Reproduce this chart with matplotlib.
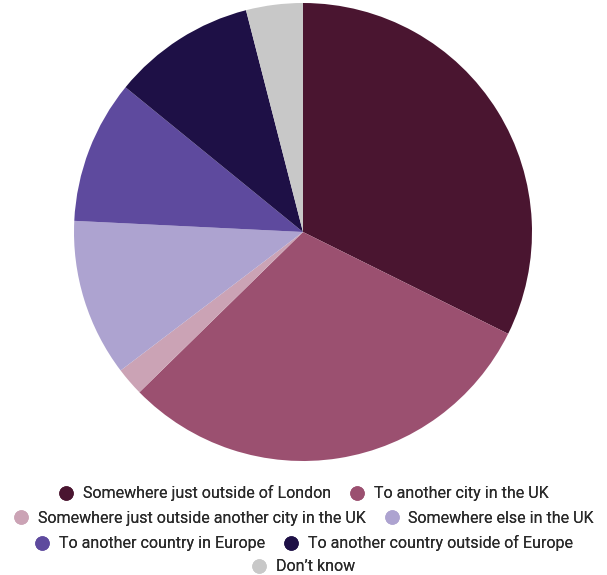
import matplotlib
matplotlib.use("Agg")
import matplotlib.pyplot as plt
from matplotlib.lines import Line2D

labels = [
    "Somewhere just outside of London",
    "To another city in the UK",
    "Somewhere just outside another city in the UK",
    "Somewhere else in the UK",
    "To another country in Europe",
    "To another country outside of Europe",
    "Don\u2019t know",
]
values = [32.3, 30.3, 2.0, 11.1, 10.1, 10.1, 4.0]
colors = ["#4a1530", "#9b5070", "#cba3b5", "#ada3d0", "#5e4a9e", "#1e1046", "#c8c8c8"]

plt.rcParams['font.family'] = ['Roboto', 'DejaVu Sans']

W, H = 607, 575
fig = plt.figure(figsize=(W / 100, H / 100), dpi=100)
cx, cy, r = 303, 232, 229
ax = fig.add_axes([(cx - r) / W, (H - cy - r) / H, 2 * r / W, 2 * r / H])
ax.pie(values, colors=colors, startangle=90, counterclock=False, radius=1,
       wedgeprops=dict(linewidth=0))
ax.set_xlim(-1, 1)
ax.set_ylim(-1, 1)
ax.axis('off')

rows = [[0, 1], [2, 3], [4, 5], [6]]
row_y = [493.3, 518.3, 543.3, 566.7]
for idxs, yy in zip(rows, row_y):
    handles = [Line2D([], [], marker='o', linestyle='none', markersize=9.4,
                      markerfacecolor=colors[i], markeredgecolor=colors[i]) for i in idxs]
    leg = fig.legend(handles, [labels[i] for i in idxs], ncol=len(idxs),
                     loc='center', bbox_to_anchor=(0.5, 1 - yy / H),
                     frameon=False, fontsize=11.5, handlelength=1.0,
                     handletextpad=0.56, columnspacing=1.12,
                     borderpad=0, borderaxespad=0, labelcolor='#2a2a2a')
    fig.add_artist(leg)

fig.savefig("out.png", dpi=100)
